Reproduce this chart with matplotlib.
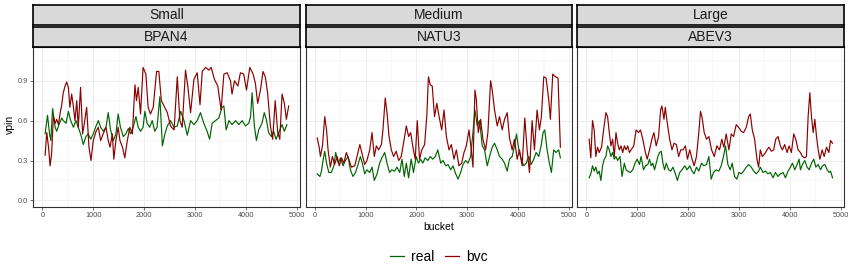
import matplotlib
matplotlib.use("Agg")
import matplotlib.pyplot as plt
from matplotlib.lines import Line2D

plt.rcParams['font.family'] = ['Liberation Sans', 'DejaVu Sans']

# facet labels
groups = ["Small", "Medium", "Large"]
tickers = ["BPAN4", "NATU3", "ABEV3"]
series_names = ["real", "bvc"]

# Small / BPAN4
small_bvc_bucket = [52, 85, 120, 150, 180, 215, 250, 280, 315, 345, 380, 410, 445, 477, 510, 540, 575, 610,
                    640, 675, 705, 750, 790, 825, 870, 915, 955, 1000, 1055, 1100, 1145, 1195, 1250, 1295,
                    1330, 1375, 1405, 1445, 1490, 1525, 1575, 1620, 1670, 1720, 1770, 1820, 1850, 1885, 1930,
                    1980, 2035, 2080, 2125, 2180, 2245, 2290, 2340, 2405, 2457, 2520, 2590, 2653, 2705, 2750,
                    2815, 2860, 2915, 2980, 3045, 3100, 3145, 3210, 3275, 3320, 3385, 3450, 3515, 3570, 3635,
                    3700, 3730, 3780, 3845, 3895, 3960, 4015, 4080, 4145, 4190, 4235, 4290, 4340, 4385, 4430,
                    4485, 4530, 4580, 4630, 4670, 4715, 4760, 4800, 4845]
small_bvc_vpin = [0.34, 0.51, 0.40, 0.26, 0.35, 0.63, 0.58, 0.61, 0.57, 0.65, 0.72, 0.81, 0.86, 0.89, 0.85, 0.70,
                  0.80, 0.70, 0.60, 0.75, 0.55, 0.85, 0.50, 0.58, 0.70, 0.40, 0.30, 0.45, 0.52, 0.55, 0.45, 0.50,
                  0.55, 0.45, 0.40, 0.50, 0.31, 0.45, 0.55, 0.45, 0.40, 0.32, 0.45, 0.55, 0.50, 0.87, 0.75, 0.85,
                  0.65, 1.00, 0.95, 0.70, 0.65, 0.70, 0.97, 0.97, 0.75, 0.70, 0.66, 0.56, 0.53, 0.93, 0.60, 0.55,
                  0.98, 0.86, 0.66, 0.91, 0.96, 0.72, 0.97, 1.00, 0.98, 1.00, 0.91, 0.86, 0.68, 0.95, 0.96, 0.90,
                  0.80, 0.90, 0.86, 0.96, 0.95, 0.83, 1.00, 0.95, 0.88, 0.73, 0.83, 0.97, 0.93, 0.81, 0.56, 0.46,
                  0.75, 0.51, 0.46, 0.80, 0.73, 0.61, 0.71]
small_real_bucket = [52, 100, 140, 165, 200, 250, 280, 335, 380, 410, 465, 510, 555, 610, 660, 705, 750, 805,
                     855, 900, 950, 1000, 1045, 1100, 1145, 1195, 1250, 1295, 1340, 1395, 1445, 1490, 1535, 1590,
                     1640, 1690, 1735, 1785, 1840, 1885, 1930, 1980, 2015, 2060, 2110, 2160, 2210, 2255, 2310,
                     2360, 2410, 2457, 2520, 2590, 2653, 2720, 2785, 2850, 2915, 2980, 3045, 3110, 3175, 3240,
                     3290, 3340, 3405, 3470, 3535, 3570, 3615, 3670, 3730, 3800, 3865, 3930, 3995, 4060, 4095,
                     4125, 4170, 4210, 4255, 4320, 4365, 4405, 4450, 4505, 4550, 4595, 4650, 4715, 4760, 4810]
small_real_vpin = [0.50, 0.64, 0.50, 0.45, 0.69, 0.55, 0.52, 0.58, 0.62, 0.60, 0.58, 0.67, 0.60, 0.55, 0.60, 0.55,
                   0.50, 0.42, 0.48, 0.50, 0.46, 0.50, 0.55, 0.60, 0.55, 0.52, 0.55, 0.66, 0.53, 0.45, 0.50, 0.65,
                   0.55, 0.48, 0.50, 0.54, 0.50, 0.55, 0.63, 0.55, 0.52, 0.55, 0.67, 0.58, 0.55, 0.60, 0.52, 0.55,
                   0.78, 0.41, 0.50, 0.56, 0.60, 0.55, 0.56, 0.67, 0.60, 0.49, 0.60, 0.57, 0.60, 0.66, 0.58, 0.52,
                   0.46, 0.58, 0.60, 0.62, 0.70, 0.71, 0.53, 0.60, 0.57, 0.60, 0.57, 0.60, 0.56, 0.58, 0.63, 0.81,
                   0.56, 0.45, 0.53, 0.58, 0.66, 0.61, 0.51, 0.48, 0.52, 0.46, 0.51, 0.57, 0.52, 0.57]

# Medium / NATU3
medium_bvc_bucket = [46, 85, 110, 150, 195, 230, 260, 305, 345, 390, 440, 480, 525, 570, 620, 675, 720, 785,
                     830, 885, 930, 980, 1025, 1080, 1125, 1170, 1210, 1255, 1310, 1340, 1385, 1420, 1460, 1505,
                     1550, 1600, 1650, 1700, 1745, 1800, 1845, 1885, 1930, 1975, 2015, 2060, 2105, 2160, 2205,
                     2235, 2270, 2310, 2355, 2400, 2440, 2496, 2542, 2588, 2640, 2686, 2738, 2784, 2836, 2889,
                     2935, 2980, 3033, 3078, 3111, 3150, 3177, 3216, 3262, 3307, 3360, 3405, 3458, 3490, 3536,
                     3589, 3634, 3687, 3732, 3785, 3830, 3883, 3929, 3981, 4027, 4079, 4131, 4177, 4223, 4275,
                     4321, 4373, 4419, 4458, 4504, 4550, 4602, 4635, 4681, 4733, 4785, 4831]
medium_bvc_vpin = [0.47, 0.40, 0.33, 0.41, 0.63, 0.53, 0.38, 0.25, 0.33, 0.27, 0.33, 0.26, 0.32, 0.28, 0.36, 0.30,
                   0.25, 0.26, 0.33, 0.42, 0.35, 0.27, 0.30, 0.38, 0.51, 0.33, 0.41, 0.38, 0.42, 0.53, 0.77, 0.66,
                   0.48, 0.38, 0.33, 0.37, 0.30, 0.33, 0.43, 0.56, 0.48, 0.51, 0.40, 0.31, 0.60, 0.31, 0.38, 0.42,
                   0.65, 0.93, 0.87, 0.86, 0.63, 0.73, 0.64, 0.53, 0.68, 0.48, 0.38, 0.42, 0.31, 0.38, 0.26, 0.28,
                   0.36, 0.41, 0.53, 0.38, 0.25, 0.83, 0.76, 0.51, 0.61, 0.46, 0.38, 0.51, 0.90, 0.83, 0.68, 0.56,
                   0.63, 0.53, 0.61, 0.66, 0.47, 0.38, 0.46, 0.31, 0.38, 0.26, 0.62, 0.38, 0.21, 0.60, 0.38, 0.68,
                   0.53, 0.63, 0.93, 0.92, 0.76, 0.61, 0.95, 0.93, 0.92, 0.40]
medium_real_bucket = [46, 100, 130, 165, 195, 230, 275, 325, 375, 410, 460, 505, 555, 600, 655, 700, 750, 800,
                      850, 895, 935, 980, 1025, 1080, 1125, 1170, 1225, 1275, 1320, 1375, 1420, 1470, 1515, 1570,
                      1615, 1670, 1715, 1760, 1800, 1845, 1895, 1940, 1995, 2040, 2080, 2125, 2170, 2225, 2270,
                      2320, 2370, 2420, 2477, 2523, 2575, 2620, 2673, 2719, 2771, 2817, 2869, 2915, 2967, 3013,
                      3065, 3111, 3150, 3196, 3242, 3294, 3340, 3392, 3438, 3490, 3536, 3589, 3634, 3687, 3732,
                      3785, 3830, 3883, 3929, 3968, 4014, 4060, 4112, 4158, 4210, 4256, 4308, 4354, 4406, 4452,
                      4491, 4524, 4570, 4615, 4655, 4700, 4746, 4799, 4831]
medium_real_vpin = [0.20, 0.18, 0.22, 0.31, 0.37, 0.28, 0.21, 0.21, 0.26, 0.36, 0.28, 0.32, 0.26, 0.30, 0.33, 0.23,
                    0.18, 0.21, 0.27, 0.33, 0.28, 0.20, 0.23, 0.21, 0.25, 0.15, 0.20, 0.28, 0.32, 0.36, 0.28, 0.21,
                    0.23, 0.22, 0.25, 0.21, 0.31, 0.18, 0.28, 0.17, 0.31, 0.21, 0.33, 0.28, 0.31, 0.28, 0.32, 0.30,
                    0.33, 0.31, 0.33, 0.38, 0.28, 0.30, 0.26, 0.27, 0.23, 0.26, 0.20, 0.16, 0.21, 0.27, 0.30, 0.28,
                    0.33, 0.51, 0.68, 0.56, 0.60, 0.41, 0.38, 0.26, 0.33, 0.40, 0.43, 0.38, 0.33, 0.31, 0.28, 0.22,
                    0.31, 0.33, 0.41, 0.50, 0.38, 0.31, 0.26, 0.28, 0.33, 0.27, 0.31, 0.36, 0.33, 0.41, 0.51, 0.53,
                    0.38, 0.28, 0.21, 0.38, 0.36, 0.38, 0.32]

# Large / ABEV3
large_bvc_bucket = [53, 86, 119, 152, 185, 218, 250, 297, 337, 383, 416, 449, 482, 515, 548, 581, 614, 647, 680,
                    713, 746, 779, 812, 845, 878, 931, 977, 1023, 1063, 1109, 1155, 1195, 1241, 1287, 1327, 1373,
                    1419, 1459, 1485, 1525, 1551, 1591, 1637, 1683, 1723, 1769, 1815, 1855, 1901, 1947, 1987,
                    2033, 2079, 2119, 2165, 2211, 2244, 2277, 2317, 2363, 2409, 2462, 2515, 2566, 2618, 2664,
                    2704, 2750, 2803, 2849, 2895, 2947, 2993, 3046, 3092, 3145, 3191, 3224, 3263, 3309, 3355,
                    3388, 3421, 3461, 3507, 3553, 3592, 3638, 3684, 3724, 3770, 3816, 3855, 3901, 3948, 3987,
                    4033, 4079, 4119, 4165, 4211, 4250, 4296, 4329, 4362, 4395, 4428, 4461, 4494, 4527, 4560,
                    4593, 4638, 4678, 4724, 4770, 4803, 4842]
large_bvc_vpin = [0.46, 0.32, 0.60, 0.53, 0.33, 0.40, 0.36, 0.40, 0.53, 0.66, 0.63, 0.51, 0.41, 0.46, 0.33, 0.51,
                  0.43, 0.38, 0.41, 0.36, 0.41, 0.38, 0.41, 0.36, 0.38, 0.41, 0.53, 0.51, 0.53, 0.46, 0.37, 0.31,
                  0.38, 0.46, 0.51, 0.41, 0.48, 0.68, 0.71, 0.61, 0.70, 0.58, 0.46, 0.38, 0.43, 0.42, 0.33, 0.38,
                  0.38, 0.41, 0.31, 0.38, 0.31, 0.26, 0.33, 0.51, 0.67, 0.62, 0.51, 0.46, 0.48, 0.38, 0.33, 0.41,
                  0.38, 0.46, 0.40, 0.50, 0.38, 0.50, 0.48, 0.57, 0.55, 0.52, 0.51, 0.55, 0.63, 0.65, 0.53, 0.46,
                  0.31, 0.25, 0.38, 0.33, 0.35, 0.38, 0.40, 0.37, 0.38, 0.46, 0.48, 0.41, 0.38, 0.42, 0.36, 0.41,
                  0.36, 0.50, 0.46, 0.38, 0.36, 0.33, 0.32, 0.33, 0.63, 0.81, 0.63, 0.51, 0.61, 0.48, 0.38, 0.31,
                  0.38, 0.33, 0.40, 0.36, 0.45, 0.43]
large_real_bucket = [53, 86, 119, 152, 185, 218, 250, 284, 317, 350, 383, 416, 449, 482, 515, 548, 581, 614, 660,
                     700, 746, 779, 812, 865, 911, 957, 997, 1043, 1076, 1122, 1162, 1208, 1241, 1274, 1307, 1340,
                     1373, 1406, 1439, 1472, 1505, 1538, 1571, 1617, 1657, 1703, 1749, 1789, 1835, 1881, 1934,
                     1980, 2033, 2079, 2119, 2165, 2211, 2264, 2310, 2363, 2409, 2454, 2500, 2553, 2605, 2651,
                     2697, 2737, 2783, 2829, 2868, 2914, 2961, 3000, 3046, 3092, 3145, 3191, 3243, 3290, 3342,
                     3388, 3421, 3474, 3520, 3572, 3618, 3671, 3717, 3770, 3816, 3869, 3915, 3967, 4013, 4053,
                     4099, 4145, 4184, 4211, 4250, 4296, 4342, 4382, 4428, 4474, 4514, 4560, 4606, 4645, 4691,
                     4737, 4777, 4803, 4842]
large_real_vpin = [0.17, 0.20, 0.26, 0.22, 0.25, 0.20, 0.22, 0.15, 0.26, 0.31, 0.33, 0.41, 0.38, 0.33, 0.36, 0.31,
                   0.33, 0.30, 0.33, 0.18, 0.28, 0.23, 0.22, 0.21, 0.23, 0.28, 0.31, 0.27, 0.33, 0.23, 0.26, 0.27,
                   0.31, 0.26, 0.28, 0.23, 0.28, 0.33, 0.36, 0.37, 0.28, 0.23, 0.28, 0.23, 0.22, 0.25, 0.20, 0.15,
                   0.21, 0.23, 0.26, 0.23, 0.26, 0.22, 0.20, 0.25, 0.22, 0.28, 0.26, 0.27, 0.33, 0.16, 0.21, 0.23,
                   0.22, 0.26, 0.33, 0.41, 0.27, 0.23, 0.28, 0.18, 0.16, 0.21, 0.20, 0.22, 0.25, 0.27, 0.25, 0.22,
                   0.20, 0.22, 0.25, 0.21, 0.22, 0.20, 0.21, 0.17, 0.21, 0.18, 0.20, 0.21, 0.17, 0.22, 0.25, 0.28,
                   0.23, 0.27, 0.31, 0.23, 0.27, 0.30, 0.25, 0.23, 0.28, 0.31, 0.25, 0.27, 0.23, 0.26, 0.27, 0.23,
                   0.21, 0.22, 0.17]

panels = [
    (small_real_bucket, small_real_vpin, small_bvc_bucket, small_bvc_vpin),
    (medium_real_bucket, medium_real_vpin, medium_bvc_bucket, medium_bvc_vpin),
    (large_real_bucket, large_real_vpin, large_bvc_bucket, large_bvc_vpin),
]

REAL_COL = '#006400'
BVC_COL = '#8B0000'
GRID = '#EBEBEB'
W, H = 850, 274

fig = plt.figure(figsize=(8.5, 2.74), dpi=100)

lefts = [33.3, 305.7, 577.3]
pw = 266.3
top_px, bot_px = 46.7, 207.3

for i, (rb, rv, bb, bv) in enumerate(panels):
    x0 = lefts[i] / W
    ax = fig.add_axes([x0, 1 - bot_px / H, pw / W, (bot_px - top_px) / H])
    ax.set_xlim(-180, 5060)
    ax.set_ylim(-0.052, 1.156)
    ax.set_xticks([0, 1000, 2000, 3000, 4000, 5000])
    ax.set_xticks([500, 1500, 2500, 3500, 4500], minor=True)
    ax.set_yticks([0.0, 0.3, 0.6, 0.9])
    ax.set_yticks([0.15, 0.45, 0.75, 1.05], minor=True)
    ax.grid(which='major', color=GRID, lw=0.6)
    ax.grid(which='minor', color=GRID, lw=0.3)
    ax.set_axisbelow(True)
    ax.plot(rb, rv, color=REAL_COL, lw=0.85)
    ax.plot(bb, bv, color=BVC_COL, lw=0.85)
    for s in ax.spines.values():
        s.set_color('#333333')
        s.set_linewidth(0.8)
    ax.tick_params(which='major', length=2, width=0.5, color='#333333',
                   labelsize=5.3, labelcolor='#4D4D4D', pad=1.5)
    ax.tick_params(which='minor', length=0)
    if i == 0:
        ax.set_yticklabels(['0.0', '0.3', '0.6', '0.9'])
    else:
        ax.tick_params(axis='y', which='major', length=0, labelleft=False)

    # two strip rows: group on top, ticker below
    for label, (s_top, s_bot) in [(groups[i], (5, 25)), (tickers[i], (26.7, 46.7))]:
        sax = fig.add_axes([x0, 1 - s_bot / H, pw / W, (s_bot - s_top) / H])
        sax.set_facecolor('#D9D9D9')
        sax.set_xticks([])
        sax.set_yticks([])
        for s in sax.spines.values():
            s.set_color('black')
            s.set_linewidth(1.2)
        sax.text(0.5, 0.48, label, ha='center', va='center', fontsize=10, color='#1A1A1A',
                 transform=sax.transAxes)

fig.text(10 / W, 1 - 124 / H, 'vpin', rotation=90, ha='center', va='center', fontsize=7.5)
fig.text(438.7 / W, 1 - 227.3 / H, 'bucket', ha='center', va='center', fontsize=7.5)

handles = [Line2D([], [], color=REAL_COL, lw=0.9), Line2D([], [], color=BVC_COL, lw=0.9)]
fig.legend(handles, series_names, loc='center', bbox_to_anchor=(438.7 / W, 1 - 256.7 / H),
           ncol=2, frameon=False, fontsize=10, handlelength=1.0, handletextpad=0.5,
           columnspacing=0.8)

fig.savefig('out.png', dpi=100)
